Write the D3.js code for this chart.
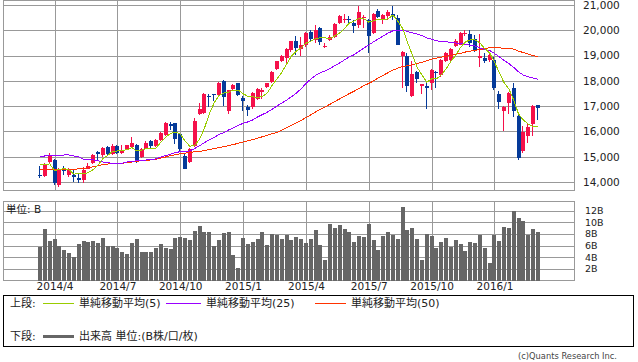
<!DOCTYPE html>
<html>
<head>
<meta charset="utf-8">
<script src="https://cdnjs.cloudflare.com/ajax/libs/d3/7.8.5/d3.min.js"></script>
<style>
    body { margin: 0; background: #fff; }
    text { font-family: "DejaVu Sans", "Noto Sans CJK JP", sans-serif; fill: #222; }
</style>
</head>
<body>
<div id="chart"></div>
<script>
// weekly Nikkei candles, 2014/3/17 .. 2016/3/7
const opens = [14260,14250,14800,14880,13870,14476,14290,14280,14170,14080,
    14500,14750,15180,15050,15400,15110,15420,15150,15270,15400,
    15460,15000,15310,15620,15430,15660,15860,16280,16320,15880,
    15040,14800,15420,16690,16720,17415,17475,17460,18000,16800,
    17660,17900,17325,16980,16950,17270,17560,17750,17950,18460,
    18800,18890,19220,19590,19250,19400,19950,19600,20100,19360,
    19620,19750,20300,20450,20460,20300,20200,20480,20400,19900,
    20780,20450,20560,20640,20500,19000,19000,17400,18360,17780,
    17800,17920,18370,18230,18800,18830,19380,19420,19870,19850,
    19640,18890,18890,18830,18820,17480,16822,17140,17700,16610,
    15240,15834,16295,17033];
const highs = [14650,14750,15164,14900,14560,14634,14550,14480,14350,14610,
    14740,15100,15240,15400,15440,15500,15450,15460,15480,15790,
    15500,15340,15640,15660,15690,15990,16360,16360,16350,15950,
    15100,15340,16530,17110,17530,17500,17500,17940,18030,17650,
    17860,17920,17400,17050,17540,17700,17720,17930,18390,18800,
    19040,19290,19590,19780,19750,19940,20010,20200,20130,19480,
    19800,20300,20600,20650,20550,20400,20952,20600,20450,20700,
    20850,20650,20800,20946,20600,19180,19100,18770,18400,17890,
    17950,18480,18400,18850,19150,19300,19640,19950,20000,20012,
    19800,19869,19100,19100,18950,17600,17000,17560,17905,16650,
    16210,16350,17050,17040];
const lows = [14150,14200,14750,13885,13800,14280,14200,14015,13950,13950,
    14500,14700,14880,14970,15050,15050,15100,15100,15250,15350,
    14750,14960,15290,15330,15400,15620,15820,16060,15500,15200,
    14529,14750,15400,16650,16700,16970,17200,17400,17020,16672,
    17600,17400,16808,16592,16900,17250,17270,17700,17920,18430,
    18760,18700,19150,19040,19000,19350,19550,19500,19400,19300,
    19580,19700,20250,20300,20200,19900,20100,20100,19115,19850,
    20500,20250,20400,20400,19400,17714,17550,17370,17900,17500,
    16901,17620,17700,18150,18750,18800,19350,19400,19780,19350,
    19150,18540,18700,18750,17650,16875,16017,16700,16590,14865,
    15160,15560,15820,16453];
const closes = [14224,14696,15063,13960,14516,14429,14457,14199,14097,14462,
    14632,15077,15097,15349,15095,15437,15164,15215,15457,15523,
    14778,15318,15539,15424,15668,15948,16321,16229,15708,15300,
    14532,15291,16413,16880,17490,17357,17459,17920,17371,17621,
    17818,17450,17197,16864,17511,17674,17648,17913,18332,18797,
    18971,19254,19560,19285,19435,19907,19652,20020,19531,19379,
    19732,20264,20563,20461,20407,20174,20706,20539,19779,20650,
    20544,20585,20724,20519,19435,19136,17792,18264,18070,17880,
    17725,18438,18291,18825,19083,19265,19596,19879,19883,19504,
    19230,18986,18769,19033,17698,17147,16958,17518,16819,14952,
    15967,16188,17014,16938];
const ma5 = [14706,14672,14717,14454,14492,14533,14485,14312,14340,14329,
    14369,14493,14673,14923,15050,15211,15228,15252,15274,15359,
    15227,15258,15323,15316,15345,15579,15780,15918,15975,15901,
    15618,15412,15449,15683,16121,16686,17120,17421,17519,17546,
    17638,17636,17491,17390,17368,17339,17379,17522,17816,18073,
    18332,18653,18983,19173,19301,19488,19568,19660,19709,19698,
    19663,19785,19894,20080,20285,20374,20462,20457,20321,20370,
    20444,20419,20456,20604,20361,20080,19521,19029,18539,18228,
    17946,18075,18081,18232,18472,18780,19012,19330,19541,19625,
    19618,19496,19274,19104,18743,18327,17921,17671,17228,16679,
    16443,16289,16188,16212];
const ma25 = [15000,15030,15030,15030,15040,15070,15070,15030,14990,14900,
    14900,14880,14840,14790,14760,14740,14740,14740,14790,14810,
    14840,14860,14870,14890,14915,14984,15049,15096,15166,15197,
    15201,15234,15323,15434,15555,15664,15760,15873,15953,16055,
    16150,16241,16320,16377,16456,16572,16665,16760,16877,17002,
    17123,17240,17373,17516,17682,17897,18071,18215,18321,18397,
    18492,18604,18710,18834,18945,19039,19169,19303,19420,19545,
    19660,19778,19890,19978,20003,20010,19951,19899,19851,19789,
    19701,19653,19584,19555,19543,19525,19498,19471,19448,19411,
    19374,19305,19234,19204,19086,18950,18805,18677,18529,18350,
    18223,18159,18109,18063];
const ma50 = [14476,14480,14485,14490,14495,14500,14510,14512,14515,14530,
    14560,14600,14640,14690,14710,14730,14740,14745,14760,14790,
    14820,14840,14860,14875,14900,14950,14990,15040,15080,15120,
    15140,15165,15195,15210,15240,15280,15320,15360,15400,15440,
    15480,15530,15580,15630,15680,15730,15790,15850,15910,15958,
    16053,16145,16234,16341,16439,16549,16653,16769,16878,16976,
    17078,17182,17291,17394,17500,17595,17705,17812,17898,18001,
    18116,18221,18325,18427,18502,18566,18596,18636,18684,18735,
    18799,18862,18899,18938,18970,19008,19051,19090,19141,19178,
    19206,19237,19269,19312,19316,19305,19291,19284,19253,19176,
    19116,19055,19004,18957];
// volume in billions of shares
const volumes = [5.8,8.9,6.8,7.1,5.9,5.3,4.7,4.1,6.3,6.8,
    6.6,6.8,6.5,7.3,5.9,5.9,5.6,4.9,4.6,6.5,
    7.1,4.9,4.9,4.9,5.6,6.3,5.6,5.4,7.3,7.5,
    7.3,7.0,8.5,9.4,8.3,8.3,6.0,7.0,8.2,8.3,
    4.4,2.2,7.3,6.3,6.6,7.1,8.3,6.1,8.0,7.8,
    7.1,7.8,7.0,7.5,7.1,6.5,7.1,8.7,6.1,3.5,
    9.7,9.0,9.5,8.9,8.3,6.6,7.7,7.5,9.7,7.0,
    5.3,7.7,8.3,7.8,7.1,12.6,8.7,9.0,7.1,3.5,
    8.0,7.7,5.6,6.6,7.3,5.8,7.0,6.3,5.1,6.6,
    6.5,7.8,5.6,3.0,7.8,6.8,9.2,9.0,11.9,10.7,
    10.2,7.8,8.9,8.3];

const priceTicks = [14000, 15000, 16000, 17000, 18000, 19000, 20000, 21000];
const volumeTicks = [2, 4, 6, 8, 10, 12];
const quarterLabels = ["2014/4", "2014/7", "2014/10", "2015/1", "2015/4", "2015/7", "2015/10", "2016/1"];

function CandleChart(parent) {
    let vis = this;

    vis.parent = d3.select(parent);
    vis.initVis();
}

CandleChart.prototype.initVis = function() {
    let vis = this;

    vis.svg = vis.parent.append("svg")
        .attr("width", 638)
        .attr("height", 362);

    vis.left = 3;
    vis.right = 574;

    vis.weeks = d3.utcMonday.range(new Date(Date.UTC(2014, 2, 17)), new Date(Date.UTC(2016, 2, 8)));
    vis.quarters = quarterLabels.map(function(s) {
        let p = s.split("/").map(Number);
        return d3.utcMonday.ceil(new Date(Date.UTC(p[0], p[1] - 1, 1)));
    });

    vis.x = d3.scaleUtc()
        .domain([vis.weeks[0], vis.weeks[vis.weeks.length - 1]])
        .range([40, 538]);
    vis.y = d3.scaleLinear()
        .domain([14000, 21000])
        .range([182, 5]);
    vis.yVol = d3.scaleLinear()
        .domain([0, 12])
        .range([280.5, 210.5]);

    vis.data = vis.weeks.map(function(w, i) {
        return {week: w, open: opens[i], high: highs[i], low: lows[i], close: closes[i],
            ma5: ma5[i], ma25: ma25[i], ma50: ma50[i], volume: volumes[i]};
    });

    vis.drawPanel(0.5, 190.5, vis.y, priceTicks);
    vis.drawPanel(201.5, 280.5, vis.yVol, volumeTicks);

    vis.updateVis();
    vis.drawLegend();
};

CandleChart.prototype.drawPanel = function(top, bottom, scale, ticks) {
    let vis = this;
    let g = vis.svg.append("g");

    g.selectAll("line.hgrid")
        .data(ticks)
        .enter()
        .append("line")
        .attr("x1", vis.left)
        .attr("x2", vis.right)
        .attr("y1", d => Math.round(scale(d)) + 0.5)
        .attr("y2", d => Math.round(scale(d)) + 0.5)
        .style("stroke", "#999")
        .style("shape-rendering", "crispEdges");

    g.selectAll("line.vgrid")
        .data(vis.quarters)
        .enter()
        .append("line")
        .attr("x1", d => Math.round(vis.x(d)) + 0.5)
        .attr("x2", d => Math.round(vis.x(d)) + 0.5)
        .attr("y1", top)
        .attr("y2", bottom)
        .style("stroke", "#999")
        .style("shape-rendering", "crispEdges");

    g.append("rect")
        .attr("x", vis.left + 0.5)
        .attr("y", top)
        .attr("width", vis.right - vis.left)
        .attr("height", bottom - top)
        .style("fill", "none")
        .style("stroke", "#999")
        .style("shape-rendering", "crispEdges");
};

CandleChart.prototype.updateVis = function() {
    let vis = this;

    // candles
    let candles = vis.svg.append("g").selectAll("g.candle")
        .data(vis.data)
        .enter()
        .append("g")
        .attr("class", "candle")
        .style("shape-rendering", "crispEdges");

    let col = d => d.close >= d.open ? "#f5104a" : "#053a99";

    candles.append("rect")
        .attr("x", d => Math.round(vis.x(d.week)) - 1)
        .attr("width", 1)
        .attr("y", d => vis.y(d.high))
        .attr("height", d => vis.y(d.low) - vis.y(d.high))
        .style("fill", col);

    candles.append("rect")
        .attr("x", d => Math.round(vis.x(d.week)) - 2)
        .attr("width", 4)
        .attr("y", d => vis.y(Math.max(d.open, d.close)))
        .attr("height", d => Math.max(1, Math.abs(vis.y(d.open) - vis.y(d.close))))
        .style("fill", col);

    // moving averages
    let mas = [["ma50", "#ff3300"], ["ma25", "#9900ff"], ["ma5", "#99cc00"]];
    mas.forEach(function(m) {
        let line = d3.line()
            .x(d => vis.x(d.week))
            .y(d => vis.y(d[m[0]]));
        vis.svg.append("path")
            .datum(vis.data)
            .attr("d", line)
            .style("fill", "none")
            .style("stroke", m[1])
            .style("stroke-width", 1)
            .style("shape-rendering", "crispEdges");
    });

    // volume
    vis.svg.append("g").selectAll("rect.vol")
        .data(vis.data)
        .enter()
        .append("rect")
        .attr("class", "vol")
        .attr("x", d => Math.round(vis.x(d.week)) - 2)
        .attr("width", 4)
        .attr("y", d => vis.yVol(d.volume))
        .attr("height", d => vis.yVol(0) - vis.yVol(d.volume))
        .style("fill", "#666")
        .style("shape-rendering", "crispEdges");

    // axes
    let priceAxis = d3.axisRight(vis.y)
        .tickValues(priceTicks)
        .tickFormat(d3.format(","))
        .tickSize(0)
        .tickPadding(9);
    let pa = vis.svg.append("g")
        .attr("transform", "translate(" + vis.right + ",0)")
        .call(priceAxis);

    let volAxis = d3.axisRight(vis.yVol)
        .tickValues(volumeTicks)
        .tickFormat(d => d + "B")
        .tickSize(0)
        .tickPadding(11);
    let va = vis.svg.append("g")
        .attr("transform", "translate(" + vis.right + ",0)")
        .call(volAxis);

    let timeAxis = d3.axisBottom(vis.x)
        .tickValues(vis.quarters)
        .tickFormat((d, i) => quarterLabels[i])
        .tickSize(0)
        .tickPadding(2);
    let ta = vis.svg.append("g")
        .attr("transform", "translate(0,280.5)")
        .call(timeAxis);

    [pa, va, ta].forEach(function(a) {
        a.select(".domain").remove();
        a.selectAll("text").style("font-family", null).style("fill", "#222");
    });
    pa.selectAll("text").style("font-size", "10.5px");
    va.selectAll("text").style("font-size", "9.5px");
    ta.selectAll("text").style("font-size", "10.5px");

    vis.svg.append("text")
        .attr("x", 6)
        .attr("y", 213)
        .style("font-size", "10.5px")
        .text("単位: B");
};

CandleChart.prototype.drawLegend = function() {
    let vis = this;
    let g = vis.svg.append("g");

    g.append("rect")
        .attr("x", 3.5)
        .attr("y", 295.5)
        .attr("width", 630)
        .attr("height", 51)
        .style("fill", "none")
        .style("stroke", "#000")
        .style("shape-rendering", "crispEdges");

    let row1 = 303, row2 = 336;
    let items = [
        {x: 43, w: 31, text: "単純移動平均(5)", color: "#99cc00"},
        {x: 166, w: 35, text: "単純移動平均(25)", color: "#9900ff"},
        {x: 315, w: 31, text: "単純移動平均(50)", color: "#ff3300"}
    ];

    g.append("text").attr("x", 10).attr("y", row1 + 4).style("font-size", "11px").text("上段:");
    items.forEach(function(it) {
        g.append("line")
            .attr("x1", it.x).attr("x2", it.x + it.w)
            .attr("y1", row1 + 0.5).attr("y2", row1 + 0.5)
            .style("stroke", it.color)
            .style("shape-rendering", "crispEdges");
        g.append("text")
            .attr("x", it.x + it.w + 5)
            .attr("y", row1 + 4)
            .style("font-size", "11px")
            .text(it.text);
    });

    g.append("text").attr("x", 10).attr("y", row2 + 4).style("font-size", "11px").text("下段:");
    g.append("rect")
        .attr("x", 43).attr("y", row2 - 1)
        .attr("width", 31).attr("height", 3)
        .style("fill", "#666");
    g.append("text")
        .attr("x", 79)
        .attr("y", row2 + 4)
        .style("font-size", "11px")
        .text("出来高 単位:(B株/口/枚)");

    vis.svg.append("text")
        .attr("x", 617)
        .attr("y", 359)
        .attr("text-anchor", "end")
        .style("font-size", "8.3px")
        .style("fill", "#444")
        .text("(c)Quants Research Inc.");
};

new CandleChart("#chart");
</script>
</body>
</html>
